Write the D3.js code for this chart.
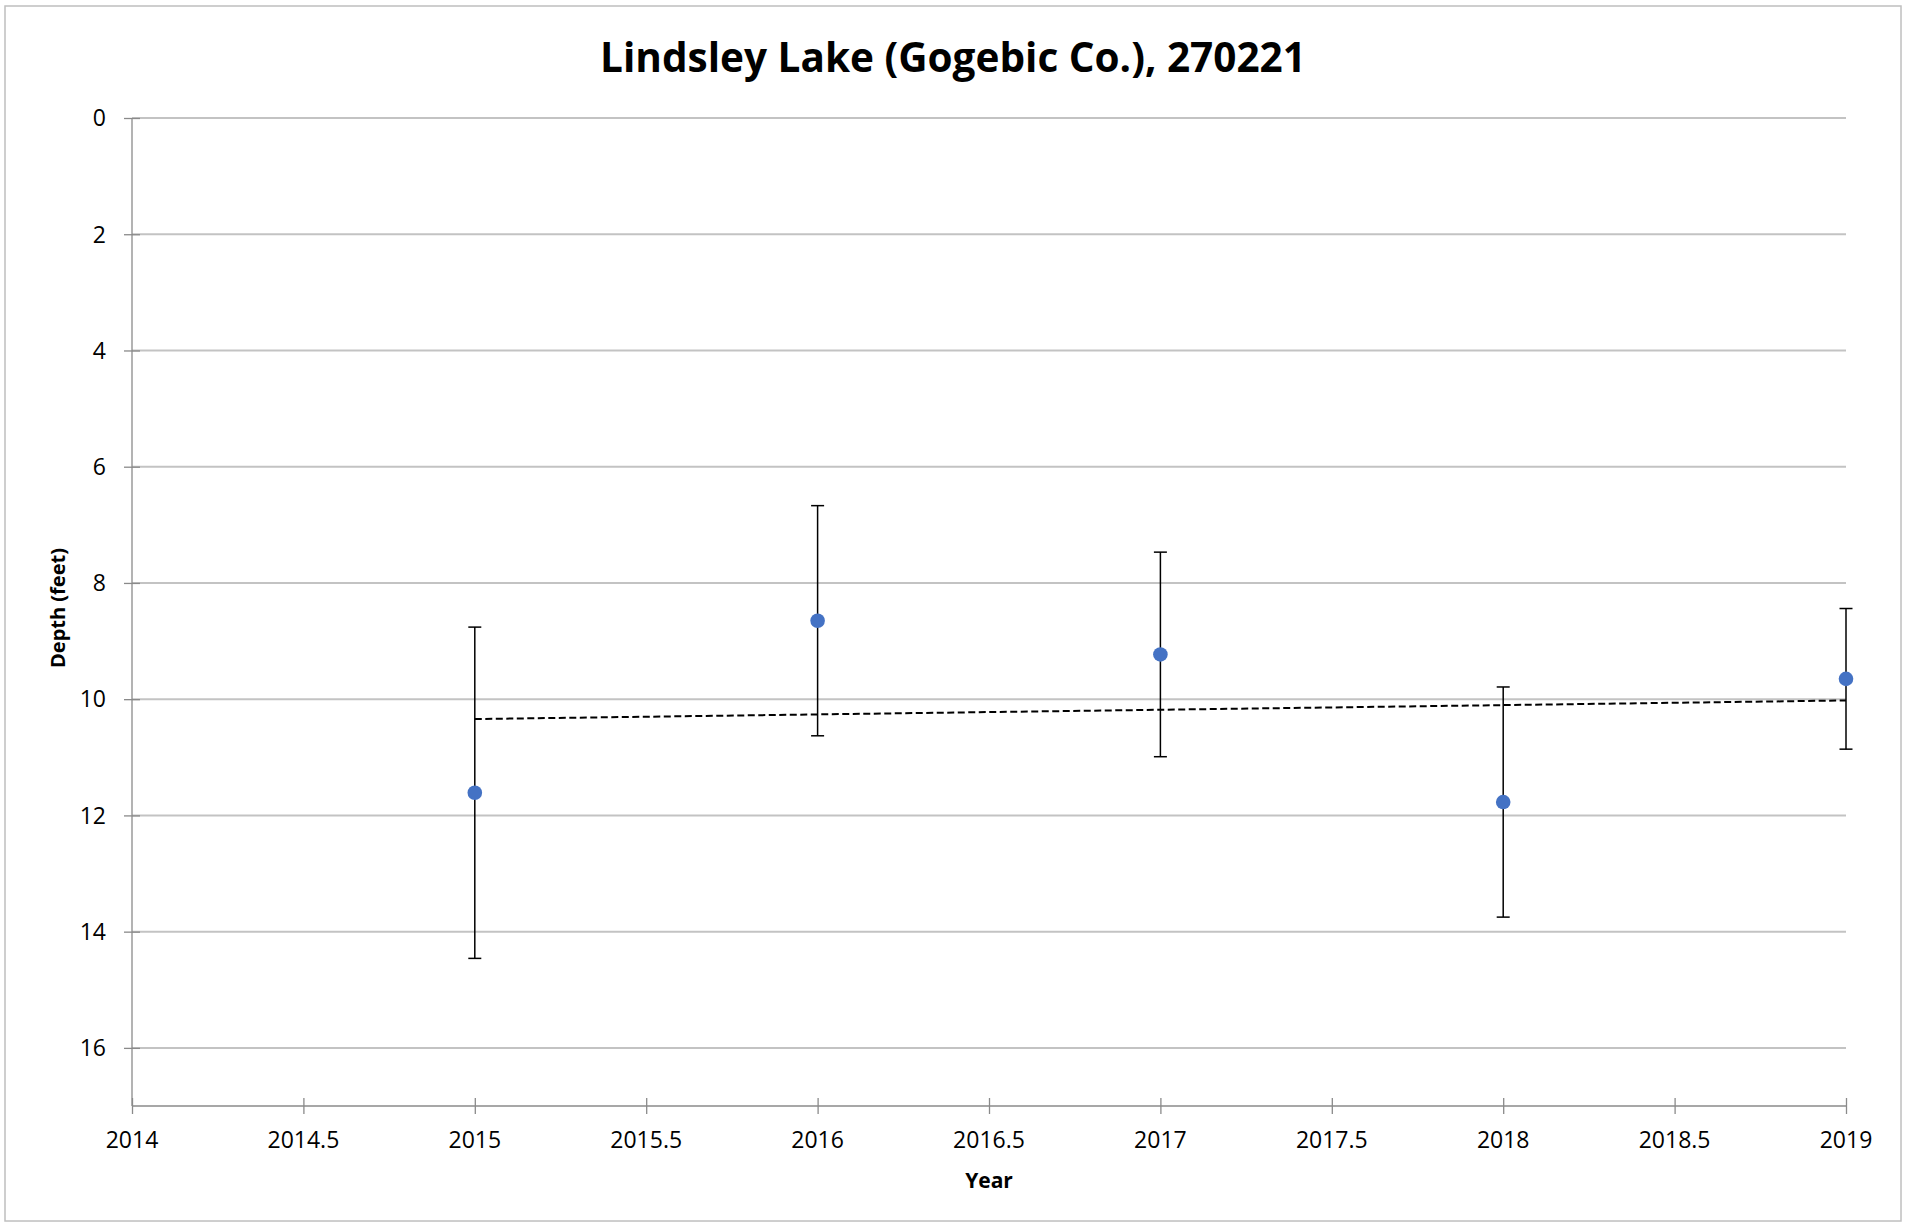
<!DOCTYPE html>
<html>
<head>
    <meta charset="utf-8">
    <title>Lindsley Lake</title>
    <style>
        body {
            margin: 0;
            background: #ffffff;
        }

        #chart {
            display: block;
        }

        .tick-label {
            font-family: "Open Sans", "Liberation Sans", sans-serif;
            font-size: 23px;
            fill: #000;
        }
    </style>
</head>
<script src="https://d3js.org/d3.v7.min.js"></script>
<body>
    <svg id="chart" width="1906" height="1225"></svg>

    <script>
        // survey years and secchi depth readings (feet)
        const years = [2015, 2016, 2017, 2018, 2019];
        const depths = [11.61, 8.65, 9.23, 11.77, 9.65];
        const errors = [2.85, 1.98, 1.76, 1.98, 1.21];

        const xTicks = [2014, 2014.5, 2015, 2015.5, 2016, 2016.5, 2017, 2017.5, 2018, 2018.5, 2019];
        const yTicks = [0, 2, 4, 6, 8, 10, 12, 14, 16];

        const titleText = "Lindsley Lake (Gogebic Co.), 270221";

        const width = 1906, height = 1225;
        const margin = { left: 132, right: 60, top: 118, bottom: 119 };

        const svg = d3.select("#chart");

        // outer frame
        svg.append("rect")
            .attr("x", 5)
            .attr("y", 6)
            .attr("width", 1896)
            .attr("height", 1215)
            .attr("fill", "none")
            .attr("stroke", "#bfbfbf")
            .attr("stroke-width", 1.5);

        const x = d3.scaleLinear()
            .domain([2014, 2019])
            .range([margin.left, width - margin.right]);

        const y = d3.scaleLinear()
            .domain([0, 17])
            .range([margin.top, height - margin.bottom]);

        // horizontal gridlines
        svg.append("g")
            .selectAll("line")
            .data(yTicks)
            .enter()
            .append("line")
            .attr("x1", x(2014))
            .attr("x2", x(2019))
            .attr("y1", d => y(d))
            .attr("y2", d => y(d))
            .attr("stroke", "#c3c3c3")
            .attr("stroke-width", 2);

        // y axis (ticks cross the line, like excel)
        const yAxis = svg.append("g")
            .attr("transform", `translate(${x(2014)},0)`)
            .call(d3.axisLeft(y).tickValues(yTicks).tickSize(8).tickFormat(""));
        yAxis.select(".domain").remove();
        yAxis.selectAll(".tick line")
            .attr("x1", -8)
            .attr("x2", 8)
            .attr("stroke", "#8a8a8a")
            .attr("stroke-width", 1.3);
        yAxis.append("line")
            .attr("y1", y(0))
            .attr("y2", y(17))
            .attr("stroke", "#8a8a8a")
            .attr("stroke-width", 1.3);

        svg.append("g")
            .selectAll("text")
            .data(yTicks)
            .enter()
            .append("text")
            .attr("class", "tick-label")
            .attr("x", x(2014) - 26)
            .attr("y", d => y(d))
            .attr("dy", "0.36em")
            .attr("text-anchor", "end")
            .text(d => d);

        // x axis at the bottom of the plot
        const xAxis = svg.append("g")
            .attr("transform", `translate(0,${y(17)})`)
            .call(d3.axisBottom(x).tickValues(xTicks).tickSize(8).tickFormat(""));
        xAxis.select(".domain").remove();
        xAxis.selectAll(".tick line")
            .attr("y1", -8)
            .attr("y2", 8)
            .attr("stroke", "#8a8a8a")
            .attr("stroke-width", 1.3);
        xAxis.append("line")
            .attr("x1", x(2014))
            .attr("x2", x(2019))
            .attr("stroke", "#8a8a8a")
            .attr("stroke-width", 1.3);

        svg.append("g")
            .selectAll("text")
            .data(xTicks)
            .enter()
            .append("text")
            .attr("class", "tick-label")
            .attr("x", d => x(d))
            .attr("y", y(17) + 34)
            .attr("dy", "0.36em")
            .attr("text-anchor", "middle")
            .text(d => d);

        // linear trendline (least squares over the readings)
        const mx = d3.mean(years), my = d3.mean(depths);
        const slope = d3.sum(years, (v, i) => (v - mx) * (depths[i] - my)) /
            d3.sum(years, v => (v - mx) * (v - mx));
        const fit = v => my + slope * (v - mx);
        const x0 = d3.min(years), x1 = d3.max(years);

        svg.append("line")
            .attr("x1", x(x0))
            .attr("x2", x(x1))
            .attr("y1", y(fit(x0)))
            .attr("y2", y(fit(x1)))
            .attr("stroke", "#000")
            .attr("stroke-width", 2)
            .attr("stroke-dasharray", "7,3.5");

        // error bars
        const bars = svg.append("g")
            .selectAll("g")
            .data(years.map((v, i) => ({ year: v, depth: depths[i], err: errors[i] })))
            .enter()
            .append("g");

        bars.append("line")
            .attr("x1", d => x(d.year))
            .attr("x2", d => x(d.year))
            .attr("y1", d => y(d.depth - d.err))
            .attr("y2", d => y(d.depth + d.err))
            .attr("stroke", "#000")
            .attr("stroke-width", 1.5);

        bars.selectAll(".cap")
            .data(d => [d.depth - d.err, d.depth + d.err].map(v => ({ year: d.year, v: v })))
            .enter()
            .append("line")
            .attr("class", "cap")
            .attr("x1", d => x(d.year) - 6.5)
            .attr("x2", d => x(d.year) + 6.5)
            .attr("y1", d => y(d.v))
            .attr("y2", d => y(d.v))
            .attr("stroke", "#000")
            .attr("stroke-width", 1.5);

        // points
        bars.append("circle")
            .attr("cx", d => x(d.year))
            .attr("cy", d => y(d.depth))
            .attr("r", 7.3)
            .attr("fill", "#4472c4");

        // title
        const title = svg.append("text")
            .attr("x", width / 2)
            .attr("y", 72)
            .attr("text-anchor", "middle")
            .style("font-family", "'Open Sans', 'Liberation Sans', sans-serif")
            .style("font-weight", "bold")
            .style("font-size", "38px")
            .text(titleText);
        // shrink the title to the width it has in the original
        const tw = title.node().getComputedTextLength();
        title.style("font-size", (38 * 705 / tw).toFixed(1) + "px");

        // axis titles
        svg.append("text")
            .attr("x", (x(2014) + x(2019)) / 2)
            .attr("y", 1188)
            .attr("text-anchor", "middle")
            .style("font-family", "'Open Sans', 'Liberation Sans', sans-serif")
            .style("font-weight", "bold")
            .style("font-size", "21px")
            .text("Year");

        svg.append("text")
            .attr("transform", "translate(65,608) rotate(-90)")
            .attr("text-anchor", "middle")
            .style("font-family", "'Open Sans', 'Liberation Sans', sans-serif")
            .style("font-weight", "bold")
            .style("font-size", "20px")
            .text("Depth (feet)");
    </script>
</body>
</html>
